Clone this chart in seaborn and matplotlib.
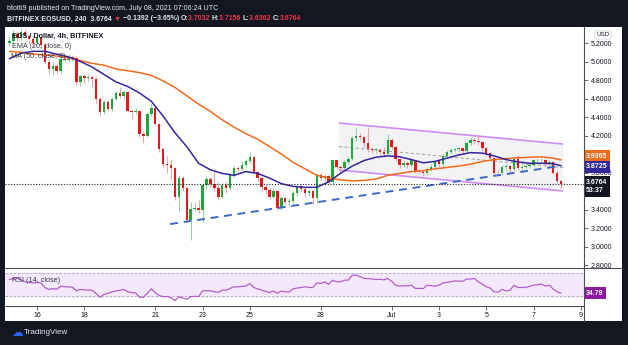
import numpy as np
import pandas as pd
import matplotlib
matplotlib.use('Agg')
import matplotlib.pyplot as plt
import seaborn as sns
from matplotlib.patches import Rectangle, Polygon
from matplotlib.lines import Line2D

sns.set_theme(style='white')
plt.rcParams['font.family'] = ['Liberation Sans', 'DejaVu Sans']

# ---------------- data ----------------
start_time = '2021-06-14 20:00'
first_open = 5.20
closes = [5.22, 5.30, 5.25, 5.32, 5.28, 5.24, 5.20, 5.26, 5.18, 5.00,
          4.92, 4.95, 4.90, 5.03, 5.02, 5.05, 5.04, 4.78, 4.84, 4.82,
          4.83, 4.81, 4.60, 4.45, 4.56, 4.49, 4.60, 4.66, 4.63, 4.67,
          4.47, 4.45, 4.46, 4.22, 4.20, 4.43, 4.50, 4.32, 4.05, 3.89,
          3.88, 3.85, 3.54, 3.74, 3.63, 3.29, 3.41, 3.42, 3.39, 3.66,
          3.73, 3.68, 3.63, 3.54, 3.66, 3.63, 3.77, 3.85, 3.84, 3.88,
          3.92, 3.97, 3.81, 3.74, 3.64, 3.61, 3.54, 3.60, 3.42, 3.52,
          3.48, 3.49, 3.58, 3.65, 3.62, 3.58, 3.60, 3.52, 3.77, 3.74,
          3.76, 3.70, 3.93, 3.86, 3.85, 3.91, 3.95, 4.17, 4.19, 4.18,
          4.12, 4.05, 4.04, 4.04, 4.02, 4.00, 4.15, 4.08, 3.95, 3.88,
          3.90, 3.88, 3.93, 3.82, 3.81, 3.79, 3.84, 3.86, 3.92, 3.89,
          3.98, 4.02, 4.04, 4.05, 4.06, 4.03, 4.12, 4.15, 4.14, 4.13,
          4.07, 4.01, 3.96, 3.80, 3.79, 3.86, 3.87, 3.84, 3.95, 3.85,
          3.86, 3.87, 3.88, 3.93, 3.93, 3.94, 3.90, 3.91, 3.80, 3.7032,
          3.6764]
highs = [5.28, 5.34, 5.33, 5.36, 5.35, 5.30, 5.27, 5.29, 5.28, 5.20,
         5.03, 4.99, 4.98, 5.06, 5.07, 5.08, 5.07, 5.06, 4.87, 4.86,
         4.86, 4.85, 4.83, 4.62, 4.58, 4.58, 4.62, 4.68, 4.72, 4.69,
         4.68, 4.49, 4.50, 4.47, 4.24, 4.45, 4.54, 4.51, 4.33, 4.06,
         3.98, 3.95, 3.86, 3.77, 3.76, 3.64, 3.48, 3.48, 3.50, 3.68,
         3.76, 3.75, 3.82, 3.70, 3.69, 3.70, 3.80, 3.88, 3.87, 3.92,
         3.95, 4.02, 3.98, 3.82, 3.75, 3.66, 3.63, 3.64, 3.61, 3.55,
         3.54, 3.52, 3.60, 3.67, 3.68, 3.63, 3.62, 3.61, 3.79, 3.79,
         3.78, 3.78, 3.95, 3.94, 3.88, 3.93, 3.98, 4.20, 4.28, 4.23,
         4.20, 4.29, 4.08, 4.06, 4.06, 4.08, 4.22, 4.17, 4.09, 3.96,
         3.93, 3.92, 3.95, 3.94, 3.84, 3.83, 3.86, 3.89, 3.94, 3.93,
         4.00, 4.04, 4.06, 4.07, 4.08, 4.08, 4.14, 4.18, 4.17, 4.19,
         4.14, 4.08, 4.02, 3.97, 3.83, 3.88, 3.89, 3.88, 3.97, 3.99,
         3.88, 3.90, 3.90, 3.95, 3.96, 3.96, 3.95, 3.93, 3.92, 3.82,
         3.7156]
lows = [5.17, 5.20, 5.22, 5.23, 5.25, 5.20, 5.16, 5.18, 5.15, 4.97,
        4.88, 4.85, 4.86, 4.88, 4.99, 5.00, 5.01, 4.75, 4.74, 4.77,
        4.79, 4.72, 4.55, 4.42, 4.43, 4.46, 4.47, 4.58, 4.61, 4.60,
        4.45, 4.38, 4.43, 4.18, 4.12, 4.18, 4.41, 4.30, 4.02, 3.86,
        3.80, 3.72, 3.50, 3.38, 3.60, 3.26, 3.07, 3.38, 3.36, 3.26,
        3.62, 3.64, 3.60, 3.50, 3.52, 3.58, 3.61, 3.75, 3.81, 3.82,
        3.86, 3.90, 3.79, 3.71, 3.60, 3.57, 3.51, 3.52, 3.39, 3.40,
        3.45, 3.44, 3.46, 3.55, 3.59, 3.54, 3.55, 3.46, 3.47, 3.71,
        3.71, 3.68, 3.68, 3.84, 3.80, 3.83, 3.89, 3.93, 4.14, 4.15,
        4.08, 4.02, 4.01, 4.01, 3.99, 3.97, 3.98, 4.05, 3.92, 3.85,
        3.86, 3.85, 3.86, 3.79, 3.78, 3.76, 3.77, 3.82, 3.84, 3.86,
        3.87, 3.96, 4.00, 4.02, 4.03, 4.00, 4.01, 4.10, 4.11, 4.10,
        4.04, 3.98, 3.93, 3.77, 3.76, 3.77, 3.83, 3.81, 3.82, 3.83,
        3.81, 3.84, 3.85, 3.86, 3.90, 3.91, 3.88, 3.88, 3.78, 3.69,
        3.6362]
rsi = [59, 61, 62.5, 58, 55, 54, 53, 54, 53, 45,
       41.6, 43, 42, 47, 46.5, 46, 45.5, 39, 41.6, 40.8,
       40.4, 40, 34.7, 27.7, 33, 34.7, 37, 39, 40, 41.6,
       37.5, 36, 35.7, 27.7, 28, 34.7, 42.7, 35.7, 31, 28.8,
       29, 27, 21.8, 28.8, 26.5, 24.3, 28.8, 29.5, 28.8, 39,
       39.5, 39, 37.5, 36.4, 40.4, 40, 43.5, 46.2, 46, 47,
       47.4, 52, 45, 42.5, 40.4, 38.5, 36, 38.7, 34.7, 38.7,
       37.5, 37, 42.7, 44, 45, 46.2, 45, 45, 53, 52,
       55, 50.4, 57.8, 55, 55, 57.8, 58, 66.5, 66.5, 64,
       61, 60.7, 60, 59, 59.5, 58.5, 60.7, 56, 49, 47.5,
       48, 48, 49, 43.4, 43.4, 43, 49, 48, 47.4, 49,
       53, 54, 55, 56.6, 56.2, 56, 59.6, 60, 60.7, 55,
       51, 46.2, 44, 37.5, 37, 41.6, 39, 40, 49, 45,
       45, 45, 47, 49, 50, 50.9, 47.4, 49, 42, 37.5,
       34.79]
avg_idx = [0, 3, 6, 9, 12, 15, 18, 21, 24, 27, 30, 33, 36, 39, 42, 45,
           48, 51, 54, 57, 60, 63, 66, 69, 72, 75, 78, 81, 84, 87, 90, 93,
           96, 99, 102, 105, 108, 111, 114, 117, 120, 123, 126, 129, 132,
           135, 138, 140]
ema20 = [5.03, 5.09, 5.11, 5.11, 5.08, 5.05, 5.00, 4.94, 4.86, 4.78, 4.73,
         4.66, 4.57, 4.41, 4.23, 4.08, 3.90, 3.83, 3.79, 3.77, 3.81, 3.79,
         3.74, 3.68, 3.65, 3.64, 3.64, 3.70, 3.79, 3.87, 3.93, 3.965, 3.98,
         3.97, 3.94, 3.905, 3.92, 3.955, 3.99, 4.015, 4.01, 3.98, 3.94,
         3.915, 3.90, 3.90, 3.895, 3.8725]
ma50 = [5.11, 5.10, 5.08, 5.07, 5.06, 5.04, 5.01, 4.98, 4.96, 4.92, 4.90,
        4.88, 4.85, 4.79, 4.72, 4.63, 4.54, 4.46, 4.37, 4.29, 4.22, 4.16,
        4.08, 4.00, 3.91, 3.84, 3.77, 3.74, 3.72, 3.71, 3.715, 3.73, 3.77,
        3.79, 3.81, 3.82, 3.84, 3.855, 3.87, 3.89, 3.92, 3.94, 3.95, 3.96,
        3.965, 3.97, 3.955, 3.9365]
# drawings (candle index, price)
support_x = [40.8, 139.7]
support_y = [3.243, 3.870]
channel_x = [83.6, 140.5]
channel_top = [4.335, 4.108]
channel_bot = [3.827, 3.600]
last_price = 3.6764
price_ticks = [2.8, 3.0, 3.2, 3.4, 3.6, 3.8, 4.0, 4.2, 4.4, 4.6, 4.8, 5.0, 5.2]
hidden_tick_labels = [3.6, 4.0]   # covered by the price labels in the reference
tick_dates = ['2021-06-16', '2021-06-18', '2021-06-21', '2021-06-23', '2021-06-25',
              '2021-06-28', '2021-07-01', '2021-07-03', '2021-07-05', '2021-07-07',
              '2021-07-09']
tick_labels = ['16', '18', '21', '23', '25', '28', 'Jul', '3', '5', '7', '9']

assert len(closes) == len(highs) == len(lows) == len(rsi) == 141
assert len(avg_idx) == len(ema20) == len(ma50)

times = pd.date_range(start_time, periods=len(closes), freq='4h')
df = pd.DataFrame({'time': times, 'close': closes, 'high': highs, 'low': lows, 'rsi': rsi})
df['open'] = [first_open] + closes[:-1]
df['idx'] = np.arange(len(df))
avg = pd.DataFrame({'idx': avg_idx, 'ema': ema20, 'ma': ma50})

# ---------------- figure ----------------
W, H = 628, 345
DARK = '#131722'
fig = plt.figure(figsize=(W / 100, H / 100), dpi=100, facecolor=DARK)

def fx(px):
    return px / W

def fy(py):
    return 1 - py / H

# white area
fig.patches.append(Rectangle((fx(5), fy(321)), fx(622) - fx(5), fy(27) - fy(321),
                             transform=fig.transFigure, fc='white', ec='none', zorder=-5))

ax = fig.add_axes([fx(5), fy(268), fx(584) - fx(5), fy(27) - fy(268)])
axr = fig.add_axes([fx(5), fy(306), fx(584) - fx(5), fy(268) - fy(306)], sharex=ax)
for a in (ax, axr):
    a.set_facecolor('white')
    for s in a.spines.values():
        s.set_visible(False)
    a.grid(False)

xlim = (-1.12, 145.8)
ax.set_xlim(*xlim)
ax.set_ylim(2.768, 5.373)

# channel
cx = channel_x
poly = Polygon([[cx[0], channel_top[0]], [cx[1], channel_top[1]],
                [cx[1], channel_bot[1]], [cx[0], channel_bot[0]]],
               closed=True, fc='#f3f3f6', ec='none', zorder=1)
ax.add_patch(poly)
ax.plot(cx, channel_top, color='#d08cf2', lw=1.2, zorder=2, solid_capstyle='butt')
ax.plot(cx, channel_bot, color='#d08cf2', lw=1.2, zorder=2, solid_capstyle='butt')
ax.plot(cx, [(channel_top[0] + channel_bot[0]) / 2, (channel_top[1] + channel_bot[1]) / 2],
        color='#a8a8a8', lw=0.8, ls=(0, (3, 2)), zorder=2)

# candles
up = df['close'] >= df['open']
body_lo = df[['open', 'close']].min(axis=1)
body_h = (df['close'] - df['open']).abs().clip(lower=0.01)
wick_col = np.where(up, '#93d3a0', '#f2a3a5')
body_col = np.where(up, '#1ea83b', '#e3191e')
ax.vlines(df['idx'], df['low'], df['high'], colors=wick_col, lw=0.8, zorder=3)
ax.bar(df['idx'], body_h, bottom=body_lo, width=0.62, color=body_col, lw=0, zorder=4)

# moving averages
sns.lineplot(data=avg, x='idx', y='ma', ax=ax, color='#f26b1d', lw=1.1, zorder=5, legend=False)
sns.lineplot(data=avg, x='idx', y='ema', ax=ax, color='#33279e', lw=1.1, zorder=5, legend=False)

# support trend line
ax.plot(support_x, support_y, color='#3d68c6', lw=1.4, ls=(0, (4, 3)), zorder=6)

# last price dotted line
ax.axhline(last_price, color='#222222', lw=0.8, ls=(0, (1, 1.5)), zorder=6)

ax.set_xlabel('')
ax.set_ylabel('')
ax.tick_params(axis='x', bottom=False, labelbottom=False)
ax.yaxis.tick_right()
ax.set_yticks(price_ticks)
ax.set_yticklabels(['' if v in hidden_tick_labels else f'{v:.4f}' for v in price_ticks])
ax.tick_params(axis='y', which='both', right=True, left=False, length=3, width=0.6,
               color='#50535e', labelsize=5, labelcolor='#131722', pad=2)

# price labels on right axis
def price_label(a, yval, text, fc, dy=0, va='center'):
    a.annotate(text, xy=(1.0, yval), xycoords=('axes fraction', 'data'),
               xytext=(1.6, dy), textcoords='offset points', ha='left', va=va,
               fontsize=5, color='white', fontweight='bold', annotation_clip=False,
               bbox=dict(boxstyle='square,pad=0.38', fc=fc, ec='none'), zorder=20)

price_label(ax, ma50[-1], f'{ma50[-1]:.4f}', '#f26b1d', dy=2.4)
price_label(ax, ema20[-1], f'{ema20[-1]:.4f}', '#33279e', dy=-0.6)
price_label(ax, last_price, f'{last_price:.4f}\n53:37', DARK, dy=3.6, va='top')

# legend texts
fig.text(fx(12), fy(36), 'EOS / Dollar, 4h, BITFINEX', fontsize=5.2, fontweight='bold',
         color='#131722', va='center', ha='left', zorder=30)
fig.text(fx(12), fy(46.5), 'EMA (20, close, 0)', fontsize=5.2, color='#363a45',
         va='center', ha='left', zorder=30)
fig.text(fx(11), fy(56.5), 'MA (50, close, 0)', fontsize=5.2, color='#363a45',
         va='center', ha='left', zorder=30)

# USD label
fig.text(fx(603), fy(35), 'USD', fontsize=4.5, color='#131722', ha='center', va='center',
         bbox=dict(boxstyle='round,pad=0.25', fc='white', ec='#c9cbd1', lw=0.5), zorder=30)

# ---------------- RSI panel ----------------
axr.set_ylim(12.4, 79.3)
axr.axhspan(30, 70, color='#f4e8fc', zorder=0)
axr.axhline(70, color='#a9a3b3', lw=0.6, ls=(0, (3, 2)), zorder=1)
axr.axhline(30, color='#a9a3b3', lw=0.6, ls=(0, (3, 2)), zorder=1)
sns.lineplot(data=df, x='idx', y='rsi', ax=axr, color='#b35fcb', lw=0.9, zorder=3, legend=False)
axr.set_xlabel('')
axr.set_ylabel('')
axr.set_yticks([])
t0 = pd.Timestamp(start_time)
tick_pos = [(pd.Timestamp(d) - t0) / pd.Timedelta(hours=4) for d in tick_dates]
axr.set_xticks(tick_pos)
axr.set_xticklabels(tick_labels)
axr.tick_params(axis='x', which='both', bottom=True, length=3, width=0.6, color='#50535e',
                labelsize=5, labelcolor='#131722', pad=1.5)
axr.set_xlim(*xlim)
price_label(axr, rsi[-1], f'{rsi[-1]:.2f}', '#8e1aa3', dy=0)
fig.text(fx(12), fy(280), 'RSI (14, close)', fontsize=5.2, color='#363a45', va='center',
         ha='left', zorder=30)

# separator lines
sep = '#4a4e59'
fig.add_artist(Line2D([fx(5), fx(622)], [fy(268), fy(268)], color=sep, lw=0.8))
fig.add_artist(Line2D([fx(5), fx(584)], [fy(306), fy(306)], color=sep, lw=0.8))
fig.add_artist(Line2D([fx(584), fx(584)], [fy(27), fy(321)], color=sep, lw=0.8))

# ---------------- header ----------------
fig.text(fx(7), fy(8.5), 'btotti9 published on TradingView.com, July 08, 2021 07:06:24 UTC',
         fontsize=5.1, color='#e8e9ed', va='center', ha='left')
fig.canvas.draw()
renderer = fig.canvas.get_renderer()
segments = [('BITFINEX:EOSUSD, 240  3.6764 ', '#e8e9ed'), ('▼ ', '#f23645'),
            ('−0.1392 (−3.65%) ', '#e8e9ed'), ('O:', '#e8e9ed'), ('3.7032 ', '#f23645'),
            ('H:', '#e8e9ed'), ('3.7156 ', '#f23645'), ('L:', '#e8e9ed'),
            ('3.6362 ', '#f23645'), ('C:', '#e8e9ed'), ('3.6764', '#f23645')]
xp = 7.0
for s, col in segments:
    t = fig.text(fx(xp), fy(19), s, fontsize=5.05, fontweight='bold', color=col,
                 va='center', ha='left')
    bb = t.get_window_extent(renderer)
    xp += bb.width

# footer logo
fig.text(fx(11), fy(333), '☁', fontsize=8.5, color='#2962ff', va='center', ha='left',
         family=['DejaVu Sans'])
fig.text(fx(24), fy(332.5), 'TradingView', fontsize=5.8, color='#e8e9ed', va='center', ha='left')

fig.savefig('out.png', dpi=100, facecolor=DARK)
